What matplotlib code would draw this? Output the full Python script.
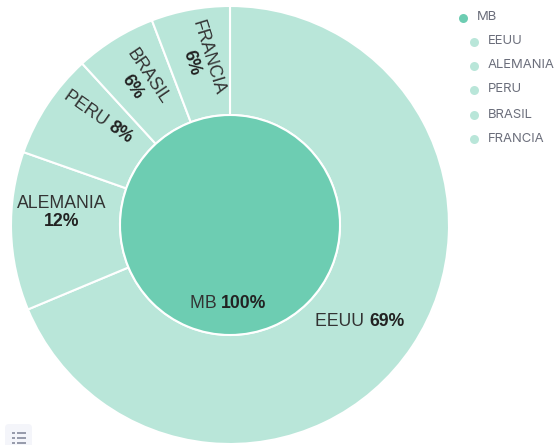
import numpy as np
import matplotlib
matplotlib.use('Agg')
import matplotlib.pyplot as plt
from matplotlib.patches import FancyBboxPatch

# datos
names = ['EEUU', 'ALEMANIA', 'PERU', 'BRASIL', 'FRANCIA']
values = [68.7, 11.7, 7.8, 6.0, 5.8]
pct_labels = ['69%', '12%', '8%', '6%', '6%']
inner_name = 'MB'
inner_value = [100]
inner_label = '100%'

dark = '#6dcdb2'
light = '#b9e6d9'
txt = '#333333'

fig = plt.figure(figsize=(5.58, 4.45), dpi=100)

# el pie va en un eje propio con y hacia arriba
ax2 = fig.add_axes([0, 0, 1, 1])
c = (230, 445 - 225)
ax2.pie(values, colors=[light] * 5, startangle=90, counterclock=False, center=c, radius=219,
        wedgeprops=dict(width=109, edgecolor='white', linewidth=1.5), frame=True)
ax2.pie(inner_value, colors=[dark], startangle=90, center=c, radius=110,
        wedgeprops=dict(edgecolor='white', linewidth=1.5), frame=True)
ax2.set_xlim(0, 558)
ax2.set_ylim(0, 445)
ax2.axis('off')

# textos encima, en pixeles con y hacia abajo
ax = fig.add_axes([0, 0, 1, 1])
ax.set_zorder(2)
ax.set_xlim(0, 558)
ax.set_ylim(445, 0)
ax.axis('off')

fs = 12.7
fam = ['Liberation Sans']


def one_line(x, y, name, pct, rot=0):
    # nombre y porcentaje en la misma linea, unidos en (x, y)
    ax.text(x, y, name + ' ', ha='right', va='center', rotation=rot, rotation_mode='anchor',
            fontsize=fs, family=fam, color=txt)
    ax.text(x, y, pct, ha='left', va='center', rotation=rot, rotation_mode='anchor',
            fontsize=fs, family=fam, color='#222222', fontweight='bold')


def two_lines(x, y, name, pct, rot=0):
    a = np.radians(rot)
    dx, dy = 9 * np.sin(a), 9 * np.cos(a)
    ax.text(x - dx, y - dy, name, ha='center', va='center', rotation=rot, rotation_mode='anchor',
            fontsize=fs, family=fam, color=txt)
    ax.text(x + dx, y + dy, pct, ha='center', va='center', rotation=rot, rotation_mode='anchor',
            fontsize=fs, family=fam, color='#222222', fontweight='bold')


one_line(369, 321, names[0], pct_labels[0])
two_lines(61.5, 212, names[1], pct_labels[1])
one_line(110, 125, names[2], pct_labels[2], rot=-35)
two_lines(140, 82, names[3], pct_labels[3], rot=-56)
two_lines(200, 60, names[4], pct_labels[4], rot=-73)
one_line(221, 304, inner_name, inner_label)

# leyenda
ax.scatter([463], [17.5], s=42, color=dark, linewidths=0)
ax.text(477, 17.5, inner_name, ha='left', va='center', fontsize=9.4, family=['Inter'], color='#6b6e7b')
leg_y = [41.5, 65.5, 89.5, 114.5, 138.5]
for n, y in zip(names, leg_y):
    ax.scatter([474], [y], s=42, color=light, linewidths=0)
    ax.text(488, y, n, ha='left', va='center', fontsize=9.4, family=['Inter'], color='#6b6e7b')

# icono de lista abajo a la izquierda
ax.add_patch(FancyBboxPatch((5, 424), 27, 26, boxstyle='round,pad=0,rounding_size=4',
                            fc='#f4f5fa', ec='none', clip_on=True))
for y in [432.5, 438, 443]:
    ax.plot([12, 14.5], [y, y], color='#7d8295', lw=1.1, solid_capstyle='butt')
    ax.plot([16.5, 25.5], [y, y], color='#7d8295', lw=1.1, solid_capstyle='butt')

fig.savefig('out.png', dpi=100)
